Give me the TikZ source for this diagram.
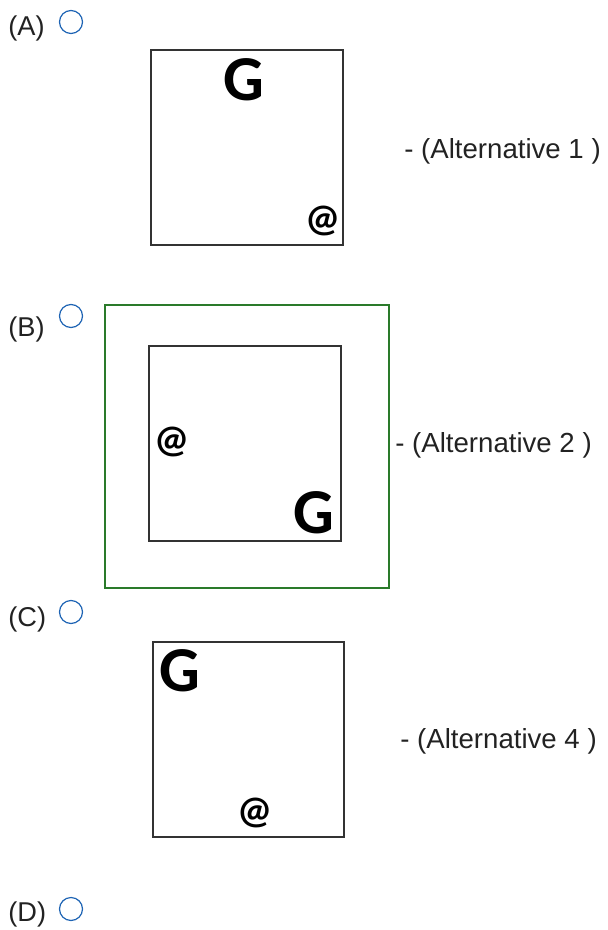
\documentclass[tikz,border=0pt]{standalone}
\usepackage{fontspec}
\setmainfont{Liberation Sans}
\newfontfamily\glyphfont{Carlito}
\usetikzlibrary{positioning}
\definecolor{ink}{HTML}{222222}
\definecolor{frm}{HTML}{333333}
\definecolor{rad}{HTML}{1E64B4}
\definecolor{grn}{HTML}{2A7A2A}
\tikzset{
  optlbl/.style = {anchor=west, inner sep=0pt, text=ink, font=\fontsize{13.6}{16}\selectfont},
  altlbl/.style = {anchor=west, inner sep=0pt, text=ink, font=\fontsize{13.8}{16}\selectfont},
  radio/.style  = {circle, draw=rad, line width=0.6pt, minimum size=11.5pt, inner sep=0pt},
  frame/.style  = {draw=frm, line width=0.65pt},
  selbox/.style = {draw=grn, line width=0.55pt},
  bigG/.style   = {inner sep=0pt, font=\glyphfont\bfseries\fontsize{32}{32}\selectfont},
  atsym/.style  = {inner sep=0pt, font=\glyphfont\bfseries\fontsize{19.5}{19.5}\selectfont},
}

\begin{document}
\begin{tikzpicture}[x=0.5pt, y=-0.5pt]
  \useasboundingbox (0,0) rectangle (608,930);

  % option (A)
  \node[optlbl] (la) at (8,28) {(A)};
  \node[radio]  (ra) at (71,22) {};
  \draw[frame] (151,50) rectangle (343,245);
  \node[bigG]   (ga) at (244,80) {G};
  \node[atsym]  (aa) at (323,221) {@};
  \node[altlbl] (ta) at (404,151) {- (Alternative 1 )};

  % option (B), selected
  \node[optlbl] (lb) at (8,329) {(B)};
  \node[radio]  (rb) at (71,316) {};
  \draw[selbox] (105,305) rectangle (389,588);
  \draw[frame] (149,346) rectangle (341,541);
  \node[atsym]  (ab) at (172,442) {@};
  \node[bigG]   (gb) at (314,513) {G};
  \node[altlbl] (tb) at (395,445) {- (Alternative 2 )};

  % option (C)
  \node[optlbl] (lc) at (8,619) {(C)};
  \node[radio]  (rc) at (71,612) {};
  \draw[frame] (153,642) rectangle (344,837);
  \node[bigG]   (gc) at (180,671) {G};
  \node[atsym]  (ac) at (255,813) {@};
  \node[altlbl] (tc) at (400,741) {- (Alternative 4 )};

  % option (D)
  \node[optlbl] (ld) at (8,914) {(D)};
  \node[radio]  (rd) at (71,909) {};
\end{tikzpicture}
\end{document}
